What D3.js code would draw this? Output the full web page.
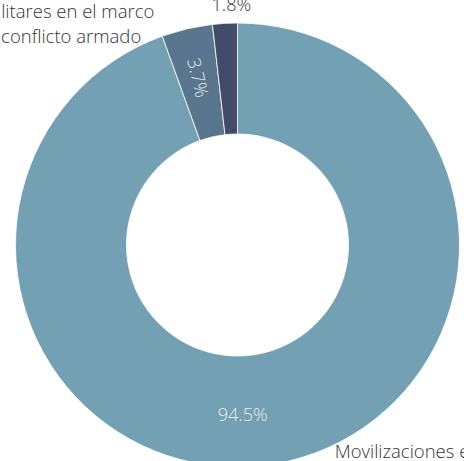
<!DOCTYPE html>
<html>
<head>
<meta charset="utf-8">
<script src="https://cdn.jsdelivr.net/npm/d3@7/dist/d3.min.js"></script>
<style>
  html, body { margin: 0; padding: 0; background: #fff; overflow: hidden; }
  svg { display: block; font-family: "Open Sans", sans-serif; }
</style>
</head>
<body>
<svg id="chart" width="464" height="461"></svg>
<script>
// ---- data ----
const categories = [
  "Movilizaciones en el territorio",
  "Acciones militares en el marco del conflicto armado",
  "Otros eventos"
];
const values = [94.5, 3.7, 1.8];
const valueLabels = ["94.5%", "3.7%", "1.8%"];
const nameLines = [
  ["Movilizaciones en el territorio"],
  ["Acciones", "militares en el marco", "del conflicto armado"],
  ["Otros eventos"]
];
const colors = ["#74a0b4", "#5a768f", "#434b6a"];

// ---- layout ----
const W = 464, H = 461;
const cx = 237.5, cy = 245;
const outerR = 222, innerR = 111;

const svg = d3.select("#chart");
const g = svg.append("g").attr("transform", `translate(${cx},${cy})`);

const pie = d3.pie().sort(null).value(d => d)
  .startAngle(0).endAngle(2 * Math.PI);
const arcs = pie(values);

const arc = d3.arc().innerRadius(innerR).outerRadius(outerR);

g.selectAll("path.slice")
  .data(arcs)
  .enter().append("path")
  .attr("class", "slice")
  .attr("d", arc)
  .attr("fill", (d, i) => colors[i])
  .attr("stroke", "#ffffff")
  .attr("stroke-width", 0.8);

const valueFont = 18.2;
const nameFont = 18.5;
function polar(angle, r) { return [Math.sin(angle) * r, -Math.cos(angle) * r]; }
const midAngle = d => (d.startAngle + d.endAngle) / 2;

// value labels: inside horizontal, inside rotated, outside
const valuePlacement = [
  { mode: "inside", r: 169, angleShift: 0.142 },
  { mode: "rotated", r: 172, angleShift: 0 },
  { mode: "outside", r: 241, angleShift: 0.031 }
];

arcs.forEach((d, i) => {
  const p = valuePlacement[i];
  const a = midAngle(d) + p.angleShift;
  const [x, y] = polar(a, p.r);
  const t = g.append("text")
    .attr("text-anchor", "middle")
    .attr("dominant-baseline", "central")
    .attr("font-size", valueFont)
    .attr("font-weight", 300)
    .text(valueLabels[i]);
  if (p.mode === "rotated") {
    const deg = a * 180 / Math.PI + 90;
    t.attr("transform", `translate(${x},${y}) rotate(${deg})`)
     .attr("fill", "#e4ecf0");
  } else if (p.mode === "inside") {
    t.attr("x", x).attr("y", y).attr("fill", "#e4ecf0");
  } else {
    t.attr("x", x).attr("y", y).attr("fill", "#333333");
  }
});

// category name labels (outside, partly clipped by the frame)
const namePlacement = [
  { r: outerR, lineDx: [59], dy: -5.4, anchor: "start" },
  { r: outerR, lineDx: [-30, -32.7, -45.8], dy: -34.9, anchor: "end" },
  { r: outerR, lineDx: [-60], dy: -60, anchor: "start" }
];
const lineH = 24.4;
arcs.forEach((d, i) => {
  const p = namePlacement[i];
  const [ox, oy] = polar(midAngle(d), p.r);
  const t = g.append("text")
    .attr("text-anchor", p.anchor)
    .attr("font-size", nameFont)
    .attr("font-weight", 300)
    .attr("fill", "#333333");
  nameLines[i].forEach((ln, k) => {
    t.append("tspan")
      .attr("x", ox + p.lineDx[Math.min(k, p.lineDx.length - 1)])
      .attr("y", oy + p.dy + k * lineH)
      .text(ln);
  });
});
</script>
</body>
</html>
